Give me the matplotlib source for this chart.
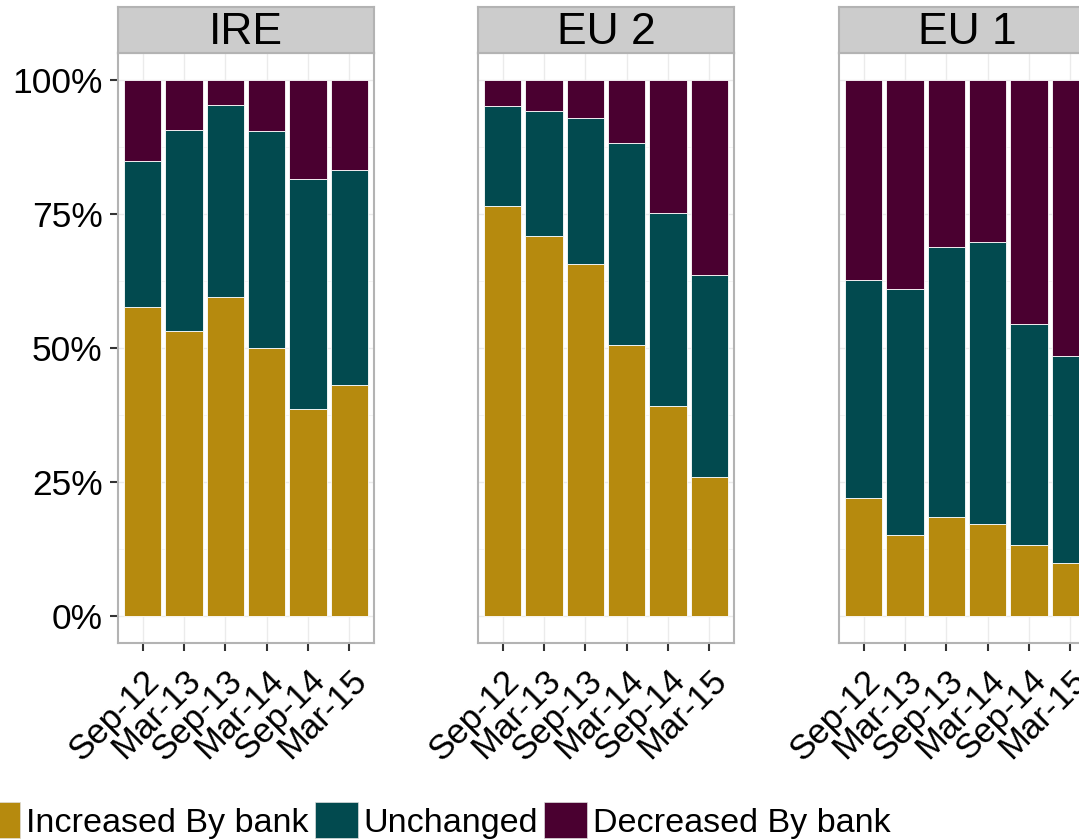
import matplotlib
matplotlib.use("Agg")
import matplotlib.pyplot as plt
from matplotlib.patches import Patch
import numpy as np

plt.rcParams['font.family'] = ['Liberation Sans', 'DejaVu Sans']

# data (shares of banks)
periods = ["Sep-12", "Mar-13", "Sep-13", "Mar-14", "Sep-14", "Mar-15"]
regions = ["IRE", "EU 2", "EU 1"]

ire_inc = [0.576, 0.532, 0.595, 0.500, 0.386, 0.431]
ire_unch = [0.273, 0.375, 0.358, 0.404, 0.430, 0.400]
ire_dec = [0.151, 0.093, 0.047, 0.096, 0.184, 0.169]

eu2_inc = [0.765, 0.709, 0.657, 0.506, 0.391, 0.259]
eu2_unch = [0.187, 0.232, 0.272, 0.377, 0.360, 0.377]
eu2_dec = [0.048, 0.059, 0.071, 0.117, 0.249, 0.364]

eu1_inc = [0.220, 0.151, 0.184, 0.172, 0.132, 0.099]
eu1_unch = [0.406, 0.459, 0.505, 0.525, 0.412, 0.386]
eu1_dec = [0.374, 0.390, 0.311, 0.303, 0.456, 0.515]

series_names = ["Increased By bank", "Unchanged", "Decreased By bank"]
colors = ["#B68A0E", "#024A4F", "#4A0030"]

data = {
    "IRE": [ire_inc, ire_unch, ire_dec],
    "EU 2": [eu2_inc, eu2_unch, eu2_dec],
    "EU 1": [eu1_inc, eu1_unch, eu1_dec],
}

W, H = 1079, 840
fig = plt.figure(figsize=(W / 100, H / 100), dpi=100)


def box(x0, y0, w, h):
    return [x0 / W, 1 - (y0 + h) / H, w / W, h / H]


panel_left = [118, 478, 839]
panel_w = 256
panel_top, panel_bot = 53, 643
strip_top = 7
border = "#B3B3B3"
x = np.arange(1, len(periods) + 1)

for k, reg in enumerate(regions):
    ax = fig.add_axes(box(panel_left[k], panel_top, panel_w, panel_bot - panel_top))
    bottom = np.zeros(len(periods))
    for vals, c in zip(data[reg], colors):
        ax.bar(x, vals, width=0.9, bottom=bottom, color=c, edgecolor="white",
               linewidth=0.6, zorder=2)
        bottom += np.array(vals)
    ax.set_xlim(0.4, 6.6)
    ax.set_ylim(-0.05, 1.05)
    ax.set_yticks([0, 0.25, 0.5, 0.75, 1.0])
    ax.set_yticks([0.125, 0.375, 0.625, 0.875], minor=True)
    ax.grid(True, which="major", color="#EBEBEB", linewidth=1.0, zorder=0)
    ax.grid(True, which="minor", axis="y", color="#F2F2F2", linewidth=0.6, zorder=0)
    ax.set_axisbelow(True)
    for s in ax.spines.values():
        s.set_color(border)
        s.set_linewidth(1.5)
    ax.set_xticks(x)
    ax.set_xticklabels(periods, rotation=45, ha="right", va="top",
                       rotation_mode="anchor", fontsize=25)
    ax.tick_params(axis="x", length=6, width=1.5, color="#333333", pad=9)
    if k == 0:
        ax.set_yticklabels(["0%", "25%", "50%", "75%", "100%"], fontsize=25.5)
        ax.tick_params(axis="y", length=6, width=1.5, color="#333333", pad=5)
    else:
        ax.tick_params(axis="y", length=0, labelleft=False)
    ax.tick_params(which="minor", length=0)

    # facet strip
    sax = fig.add_axes(box(panel_left[k], strip_top, panel_w, panel_top - strip_top))
    sax.set_facecolor("#CCCCCC")
    sax.set_xticks([])
    sax.set_yticks([])
    for s in sax.spines.values():
        s.set_color(border)
        s.set_linewidth(1.5)
    sax.text(0.5, 0.45, reg, ha="center", va="center", fontsize=32,
             transform=sax.transAxes)

handles = [Patch(facecolor=c, edgecolor="#DDDDDD", linewidth=0.5) for c in colors]
fs = 24.6
fspx = fs * 100 / 72
fig.legend(handles, series_names, loc="upper left", ncol=3, frameon=False,
           bbox_to_anchor=(-23 / W, 1 - 802 / H), borderpad=0, borderaxespad=0,
           fontsize=fs, handlelength=43 / fspx, handleheight=43 / fspx,
           handletextpad=6 / fspx, columnspacing=6 / fspx)

fig.savefig("out.png", dpi=100)
